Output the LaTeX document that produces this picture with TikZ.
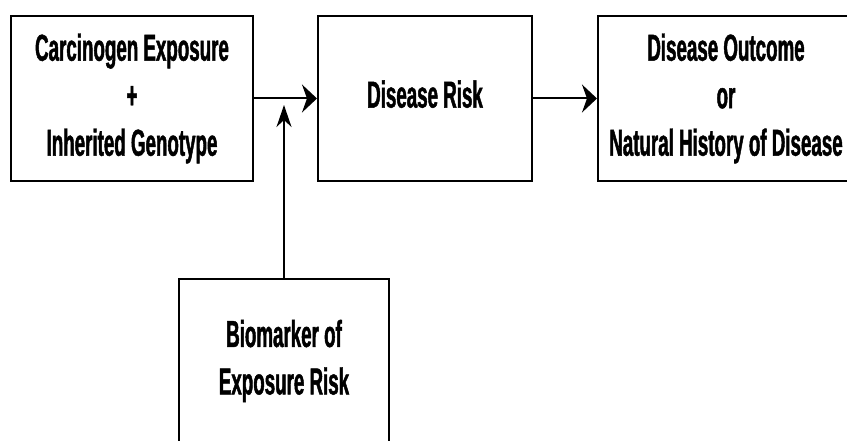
\documentclass[tikz,border=0pt]{standalone}
\usepackage{fontspec}
\setmainfont{Liberation Sans}[FakeStretch=0.5,BoldFeatures={FakeBold=1.2}]
\usetikzlibrary{arrows.meta}
\begin{document}
\begin{tikzpicture}[x=1pt,y=-1pt,
  box/.style={draw, line width=2pt, inner sep=0pt, align=center,
    font=\bfseries\fontsize{37.5}{47.5}\selectfont},
  harrow/.style={line width=2pt, -{Stealth[length=15pt,width=28pt,inset=5pt]}},
  varrow/.style={line width=1.8pt, -{Stealth[length=22pt,width=15pt,inset=7pt]}}]
\useasboundingbox (0,0) rectangle (847,441);
% the three boxes of the main chain
\node[box, minimum width=242pt, minimum height=165pt] (expo) at (132,98.5)
  {Carcinogen Exposure\\+\\Inherited Genotype};
\node[box, minimum width=214pt, minimum height=165pt, text depth=9pt] (risk) at (425,98.5)
  {Disease Risk};
\node[box, minimum width=256pt, minimum height=165pt] (outc) at (726,98.5)
  {Disease Outcome\\or\\Natural History of Disease};
% the modifying biomarker, below the first arrow
\node[box, minimum width=210pt, minimum height=164pt] (bio) at (284,361)
  {Biomarker of\\Exposure Risk};
\coordinate (join) at (284,105);
% connectors
\draw[harrow] (expo.east) -- (risk.west);
\draw[harrow] (risk.east) -- (outc.west);
\draw[varrow] (bio.north) -- (join);
\end{tikzpicture}
\end{document}
